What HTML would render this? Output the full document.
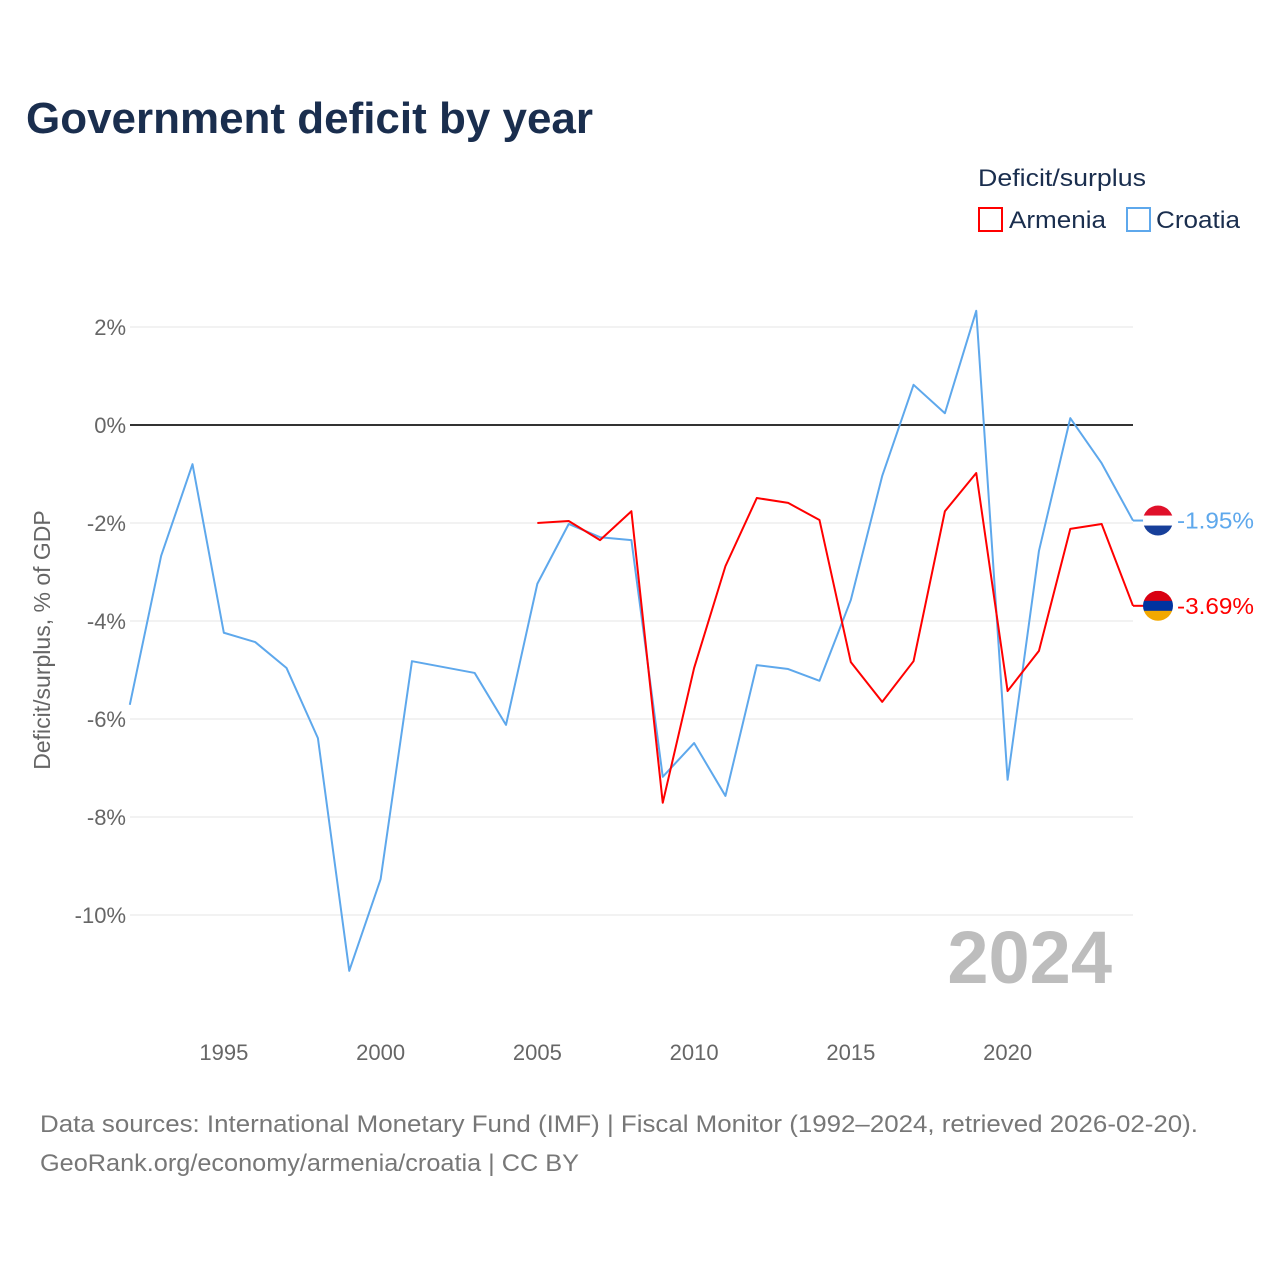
<!DOCTYPE html>
<html><head><meta charset="utf-8">
<style>
body{margin:0;background:#fff;width:1280px;height:1280px;overflow:hidden;font-family:"Liberation Sans",sans-serif;}
</style></head>
<body>
<svg id="chart" width="1280" height="1280" xmlns="http://www.w3.org/2000/svg" font-family="Liberation Sans, sans-serif">
<text x="26" y="133" font-size="44" font-weight="bold" fill="#1a2e4e" textLength="567" lengthAdjust="spacingAndGlyphs">Government deficit by year</text>
<text x="978" y="186" font-size="24" fill="#1a2e4e" textLength="168" lengthAdjust="spacingAndGlyphs">Deficit/surplus</text>
<g><rect x="979" y="208" width="23" height="23" fill="none" stroke="#ff0000" stroke-width="2"/><text x="1009" y="228" font-size="24" fill="#1a2e4e" textLength="97" lengthAdjust="spacingAndGlyphs">Armenia</text></g>
<g><rect x="1127" y="208" width="23" height="23" fill="none" stroke="#5ea8ec" stroke-width="2"/><text x="1156" y="228" font-size="24" fill="#1a2e4e" textLength="84" lengthAdjust="spacingAndGlyphs">Croatia</text></g>
<text transform="translate(50,640) rotate(-90)" text-anchor="middle" font-size="23" fill="#666">Deficit/surplus, % of GDP</text>
<text x="1112" y="983" text-anchor="end" font-size="74" font-weight="bold" fill="#bdbdbd">2024</text>
<g id="grid"></g><g id="marks"></g>
<text x="40" y="1132" font-size="24" fill="#777" textLength="1158" lengthAdjust="spacingAndGlyphs">Data sources: International Monetary Fund (IMF) | Fiscal Monitor (1992–2024, retrieved 2026-02-20).</text>
<text x="40" y="1171" font-size="24" fill="#777" textLength="539" lengthAdjust="spacingAndGlyphs">GeoRank.org/economy/armenia/croatia | CC BY</text>
</svg>
<script>
const years=[];for(let y=1992;y<=2024;y++)years.push(y);
const croatia=[-5.71,-2.67,-0.80,-4.24,-4.43,-4.96,-6.39,-11.14,-9.27,-4.82,-4.94,-5.06,-6.12,-3.24,-2.02,-2.29,-2.35,-7.18,-6.49,-7.57,-4.90,-4.98,-5.22,-3.57,-1.04,0.82,0.24,2.33,-7.24,-2.57,0.14,-0.78,-1.95];
const armeniaYears=[2005,2006,2007,2008,2009,2010,2011,2012,2013,2014,2015,2016,2017,2018,2019,2020,2021,2022,2023,2024];
const armenia=[-2.0,-1.96,-2.35,-1.76,-7.71,-4.96,-2.88,-1.49,-1.59,-1.94,-4.84,-5.65,-4.82,-1.76,-0.98,-5.43,-4.61,-2.12,-2.02,-3.69];
const yTicks=[2,0,-2,-4,-6,-8,-10];
const xTicks=[1995,2000,2005,2010,2015,2020];
const NS="http://www.w3.org/2000/svg";
const X=v=>129.8+(v-1992)*31.35;
const Y=v=>425-v*49;
const grid=document.getElementById('grid'),marks=document.getElementById('marks');
function mk(t,a,p){const e=document.createElementNS(NS,t);for(const k in a)e.setAttribute(k,a[k]);p.appendChild(e);return e;}
yTicks.forEach(t=>{
 const l=mk('line',{x1:130,x2:1133,y1:Y(t),y2:Y(t),stroke:t===0?'#333':'#e6e6e6','stroke-width':t===0?2:1},grid);
 
 
 const tx=mk('text',{x:126,y:Y(t)+8,'text-anchor':'end','font-size':22,fill:'#666'},grid);tx.textContent=t+'%';
 
 
});
xTicks.forEach(t=>{
 const tx=mk('text',{x:X(t),y:1060,'text-anchor':'middle','font-size':22,fill:'#666'},grid);tx.textContent=t;
 
 
});
function line(xs,vs,c,name){
 const p=mk('polyline',{points:xs.map((x,i)=>X(x)+','+Y(vs[i])).join(' '),fill:'none',stroke:c,'stroke-width':2,'stroke-linejoin':'round'},marks);
 
 
}
line(years,croatia,'#5ea8ec','croatia-line');
line(armeniaYears,armenia,'#ff0000','armenia-line');
function endLabel(v,c,name,flag){
 const y=Y(v);
 mk('line',{x1:X(2024),x2:1144,y1:y,y2:y,stroke:c,'stroke-width':2},marks);
 const g=mk('g',{},marks);
 
 
 const cp=mk('clipPath',{id:'c'+name},g);mk('circle',{cx:1158,cy:y,r:15},cp);
 const h=30/flag.length;
 flag.forEach((f,i)=>mk('rect',{x:1143,y:y-15+i*h,width:30,height:h+0.5,fill:f,'clip-path':'url(#c'+name+')'},g));
 const t=mk('text',{x:1177,y:y+8,'font-size':23,fill:c,textLength:77,lengthAdjust:'spacingAndGlyphs'},marks);t.textContent=v.toFixed(2)+'%';
 
 
}
endLabel(croatia[croatia.length-1],'#5ea8ec','croatia',['#e0102a','#ffffff','#173f9a']);
endLabel(armenia[armenia.length-1],'#ff0000','armenia',['#d90012','#0033a0','#f2a800']);
</script>
</body></html>
